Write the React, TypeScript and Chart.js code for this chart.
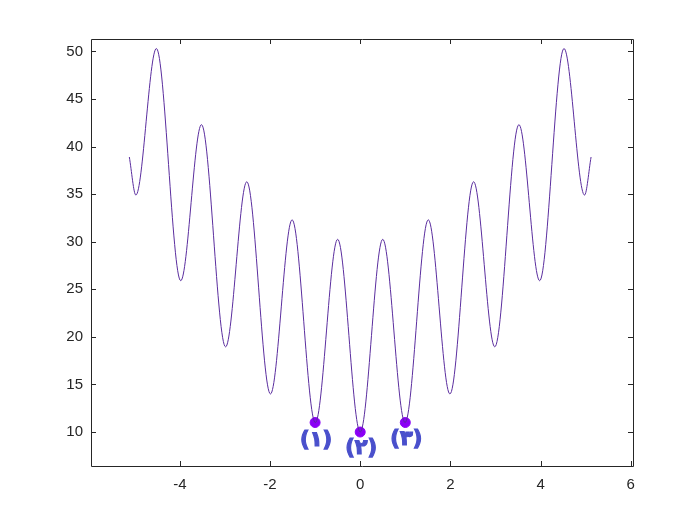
import React, { useEffect, useRef } from "react";
import { Chart, registerables } from "chart.js";
Chart.register(...registerables);

// Curve extrema (x, y)
const curveX = [-5.12, -4.975, -4.52, -3.98, -3.52, -2.985, -2.515, -1.99, -1.51, -0.995, -0.5, 0, 0.5, 0.995, 1.51, 1.99, 2.515, 2.985, 3.52, 3.98, 4.52, 4.975, 5.12];
const curveY = [38.9, 34.9, 50.3, 25.9, 42.3, 18.95, 36.3, 14.0, 32.3, 10.99, 30.25, 10.0, 30.25, 10.99, 32.3, 14.0, 36.3, 18.95, 42.3, 25.9, 50.3, 34.9, 38.9];

const markX = [-1, 0, 1];
const markY = [11, 10, 11];
const markLabels = ["(١)", "(٢)", "(٣)"];
const labelY = [9.1, 8.25, 9.2];

const xTicks = [-4, -2, 0, 2, 4, 6];
const yTicks = [10, 15, 20, 25, 30, 35, 40, 45, 50];

const boxPlugin = {
  id: "boxTicks",
  afterDraw(chart: any) {
    const { ctx, chartArea: a, scales } = chart;
    ctx.save();
    ctx.strokeStyle = "#262626";
    ctx.lineWidth = 1;
    ctx.beginPath();
    ctx.rect(Math.round(a.left) + 0.5, Math.round(a.top) + 0.5, Math.round(a.right - a.left), Math.round(a.bottom - a.top));
    ctx.stroke();
    const L = 5;
    ctx.beginPath();
    xTicks.forEach((t) => {
      const px = Math.round(scales.x.getPixelForValue(t)) + 0.5;
      ctx.moveTo(px, a.bottom);
      ctx.lineTo(px, a.bottom - L);
      ctx.moveTo(px, a.top);
      ctx.lineTo(px, a.top + L);
    });
    yTicks.forEach((t) => {
      const py = Math.round(scales.y.getPixelForValue(t)) + 0.5;
      ctx.moveTo(a.left, py);
      ctx.lineTo(a.left + L, py);
      ctx.moveTo(a.right, py);
      ctx.lineTo(a.right - L, py);
    });
    ctx.stroke();
    // labels
    ctx.fillStyle = "#4a50cc";
    ctx.strokeStyle = "#4a50cc";
    ctx.lineWidth = 1.2;
    ctx.font = "bold 21px 'DejaVu Sans', 'Noto Sans', sans-serif";
    ctx.textAlign = "center";
    ctx.textBaseline = "middle";
    markLabels.forEach((s, i) => {
      const px = scales.x.getPixelForValue(markX[i]) + 1;
      const py = scales.y.getPixelForValue(labelY[i]);
      ctx.fillText(s, px, py);
      ctx.strokeText(s, px, py);
    });
    ctx.restore();
  },
};

export default function App() {
  const ref = useRef<HTMLCanvasElement>(null);
  useEffect(() => {
    document.body.style.margin = "0";
    const chart = new Chart(ref.current!, {
      type: "scatter",
      data: {
        datasets: [
          {
            type: "line",
            data: curveX.map((x, i) => ({ x, y: curveY[i] })),
            borderColor: "#5a2d9e",
            borderWidth: 1,
            pointRadius: 0,
            cubicInterpolationMode: "monotone",
            fill: false,
          } as any,
          {
            data: markX.map((x, i) => ({ x, y: markY[i] })),
            backgroundColor: "#8a00f5",
            borderColor: "#8a00f5",
            pointRadius: 5,
          },
        ],
      },
      options: {
        animation: false,
        responsive: false,
        plugins: { legend: { display: false }, tooltip: { enabled: false } },
        layout: { padding: { left: 0, top: 39, right: 67, bottom: 0 } },
        scales: {
          x: {
            type: "linear",
            min: -5.97,
            max: 6.05,
            afterBuildTicks: (s: any) => { s.ticks = xTicks.map((v) => ({ value: v })); },
            afterFit: (s: any) => { s.height = 59; },
            grid: { display: false, drawTicks: false },
            border: { display: false },
            ticks: { color: "#262626", font: { family: "'Liberation Sans', Arial, sans-serif", size: 15 }, padding: 10 },
          },
          y: {
            type: "linear",
            min: 6.43,
            max: 51.3,
            afterBuildTicks: (s: any) => { s.ticks = yTicks.map((v) => ({ value: v })); },
            afterFit: (s: any) => { s.width = 91; },
            grid: { display: false, drawTicks: false },
            border: { display: false },
            ticks: { color: "#262626", font: { family: "'Liberation Sans', Arial, sans-serif", size: 15 }, padding: 8 },
          },
        },
      },
      plugins: [boxPlugin],
    });
    return () => chart.destroy();
  }, []);
  return (
    <div style={{ width: 700, height: 525, background: "#fff" }}>
      <canvas ref={ref} width={700} height={525} />
    </div>
  );
}
